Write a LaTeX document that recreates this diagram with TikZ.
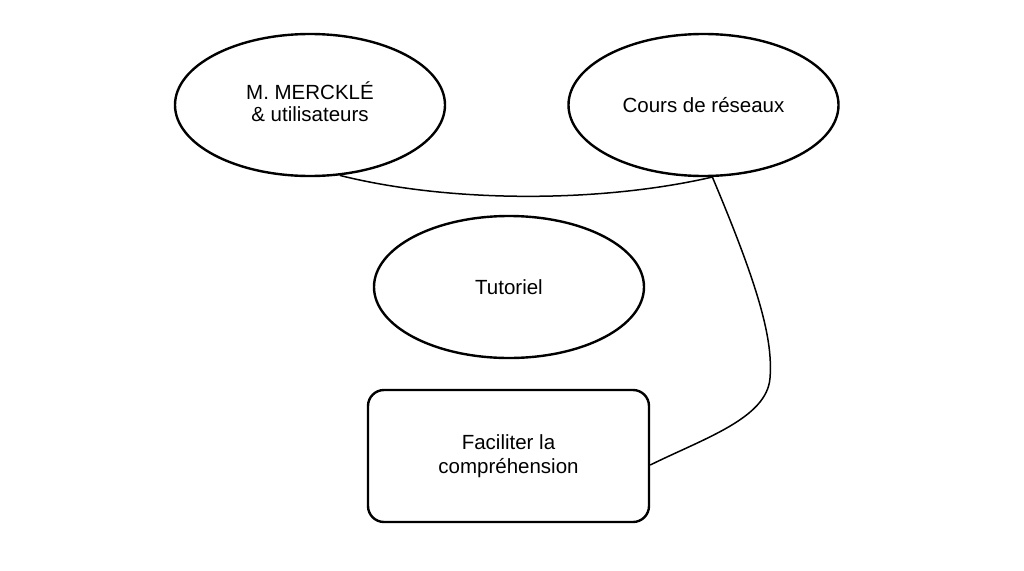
\documentclass[tikz,border=0pt]{standalone}
\usepackage{fontspec}
\setmainfont{Liberation Sans}
\usetikzlibrary{shapes.geometric}
\begin{document}
\begin{tikzpicture}[x=1pt,y=-1pt,
  oval/.style={draw, ellipse, line width=2.4pt, minimum width=270pt, minimum height=142pt, inner sep=0pt, align=center, font=\fontsize{20.5}{24}\selectfont},
  goal/.style={draw, rounded corners=16pt, line width=2.4pt, minimum width=281pt, minimum height=132pt, inner sep=0pt, align=center, font=\fontsize{20.5}{24}\selectfont},
  link/.style={line width=1.5pt}]
\useasboundingbox (0,0) rectangle (1024,570);
\fill[white] (0,0) rectangle (1024,570);
\node[oval] (e1) at (310,105) {\raisebox{6pt}{\begin{tabular}{@{}c@{}}M. MERCKLÉ\\[-2pt]\& utilisateurs\end{tabular}}};
\node[oval] (e2) at (703.5,105) {Cours de réseaux};
\node[oval] (e3) at (509,287) {Tutoriel};
\node[goal] (r) at (508.5,456) {Faciliter la\\compréhension};
\draw[link] (e1.-67) .. controls (450,203) and (600,203) .. (e2.-83);
\draw[link] (e2.-83) .. controls (760,290) and (773,340) .. (770,378)
  .. controls (767,418) and (705,438) .. ([yshift=-9pt]r.east);
\end{tikzpicture}
\end{document}
